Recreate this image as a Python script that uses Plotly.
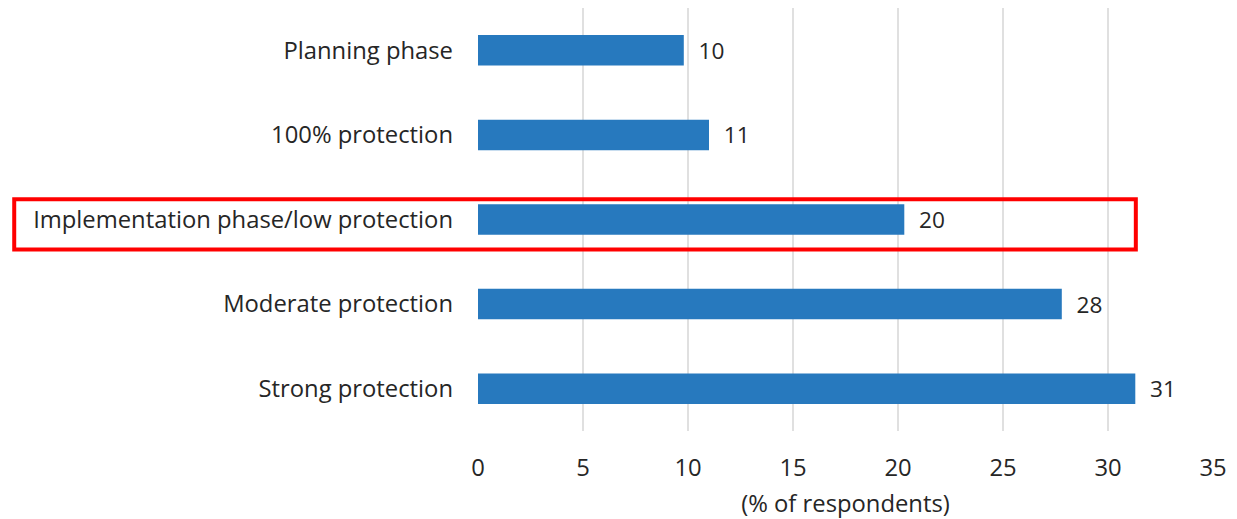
import plotly.graph_objects as go

categories = ["Planning phase", "100% protection", "Implementation phase/low protection",
              "Moderate protection", "Strong protection"]
values = [9.8, 11.0, 20.3, 27.8, 31.3]
labels = ["10", "11", "20", "28", "31"]
x_ticks = [0, 5, 10, 15, 20, 25, 30, 35]

FONT = "Open Sans"
TXT = "#262626"
FS = 23.8

fig = go.Figure(go.Bar(
    y=categories, x=values, orientation="h",
    marker=dict(color="#2779BE", line=dict(width=0)),
    width=0.36,
    text=["\u00a0\u00a0" + l for l in labels],
    textposition="outside", cliponaxis=False,
    textfont=dict(family=FONT, size=FS, color=TXT),
))

fig.update_layout(
    width=1237, height=519,
    margin=dict(l=478, r=24, t=8, b=88, autoexpand=False),
    paper_bgcolor="white", plot_bgcolor="white",
    showlegend=False,
    font=dict(family=FONT, size=FS, color=TXT),
    xaxis=dict(range=[0, 35], tickvals=x_ticks, showgrid=True, gridcolor="#e0e0e0",
               gridwidth=2, zeroline=False, showline=False, automargin=False,
               ticklabelstandoff=20,
               title=dict(text="(% of respondents)", standoff=14,
                          font=dict(family=FONT, size=FS, color=TXT)),
               tickfont=dict(family=FONT, size=FS, color=TXT)),
    yaxis=dict(autorange="reversed", showgrid=False, zeroline=False, showline=False,
               automargin=False, ticklabelstandoff=24,
               tickfont=dict(family=FONT, size=FS, color=TXT)),
    shapes=[dict(type="rect", xref="paper", yref="paper",
                 x0=-0.631, x1=0.895, y0=0.429, y1=0.548,
                 line=dict(color="#ff0000", width=4), layer="above")],
)

fig.write_html("out.html")
